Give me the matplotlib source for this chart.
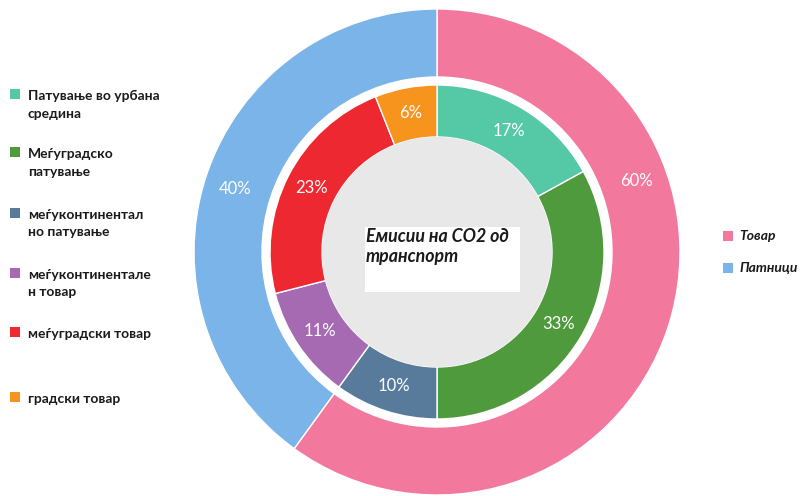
import matplotlib
matplotlib.use("Agg")
import matplotlib.pyplot as plt
from matplotlib.patches import Circle, Rectangle
import numpy as np

outer_labels = ["Товар", "Патници"]
outer_values = [60, 40]
outer_colors = ["#F2789E", "#7AB4E8"]

inner_labels = ["Патување во урбана\nсредина", "Меѓуградско\nпатување",
                "меѓуконтинентал\nно патување", "меѓуконтинентале\nн товар",
                "меѓуградски товар", "градски товар"]
inner_values = [17, 33, 10, 11, 23, 6]
inner_colors = ["#55C8A6", "#4F9A3C", "#587B9C", "#A66AB2", "#EE2830", "#F7941E"]

title = "Емисии на CO2 од\nтранспорт"

plt.rcParams['font.family'] = ['Lato', 'DejaVu Sans']

W, H = 801, 496
fig = plt.figure(figsize=(W / 100, H / 100), dpi=100)
ax = fig.add_axes([0, 0, 1, 1])
ax.set_xlim(0, W)
ax.set_ylim(0, H)
ax.set_aspect('equal')
ax.axis('off')

cx, cy = 437, H - 252
R_out, R_out_in = 243, 175
R_in, R_in_in = 167, 115

ax.pie(outer_values, radius=R_out, center=(cx, cy), colors=outer_colors,
       startangle=90, counterclock=False,
       wedgeprops=dict(width=R_out - R_out_in, edgecolor='white', linewidth=1))
ax.pie(inner_values, radius=R_in, center=(cx, cy), colors=inner_colors,
       startangle=90, counterclock=False,
       wedgeprops=dict(width=R_in - R_in_in, edgecolor='white', linewidth=1))
ax.set_xlim(0, W)
ax.set_ylim(0, H)

# outer labels sit near the top of each side of the ring
outer_label_angles = [19.5, 162.6]
r_lab = (R_out + R_out_in) / 2 + 3
for v, ang in zip(outer_values, outer_label_angles):
    x = cx + r_lab * np.cos(np.radians(ang))
    y = cy + r_lab * np.sin(np.radians(ang))
    ax.text(x, y, f"{v}%", color='white', fontsize=12, ha='center', va='center')

total = sum(inner_values)
start = 90.0
r_mid = (R_in + R_in_in) / 2
for v in inner_values:
    ang = start - 360.0 * v / total / 2
    start -= 360.0 * v / total
    x = cx + r_mid * np.cos(np.radians(ang))
    y = cy + r_mid * np.sin(np.radians(ang))
    ax.text(x, y, f"{v}%", color='white', fontsize=12, ha='center', va='center')

ax.add_patch(Circle((cx, cy), R_in_in, facecolor='#E8E8E8', edgecolor='none'))
ax.add_patch(Rectangle((365, H - 292), 155, 65, facecolor='white', edgecolor='none'))
ax.text(366, H - 228, title, fontsize=12.8, fontweight='bold', style='italic',
        color='#1a1a1a', ha='left', va='top', linespacing=1.2)

# left legend
leg_y = [94, 152, 213, 273, 332, 397]
for lab, col, y in zip(inner_labels, inner_colors, leg_y):
    ax.add_patch(Rectangle((10, H - y - 5), 10, 10, facecolor=col, edgecolor='none'))
    ax.text(28, H - y + 4, lab, fontsize=10, fontweight='bold', color='#1a1a1a',
            ha='left', va='top', linespacing=1.55)

# right legend
r_y = [236, 268]
for lab, col, y in zip(outer_labels, outer_colors, r_y):
    ax.add_patch(Rectangle((723, H - y - 5), 10, 10, facecolor=col, edgecolor='none'))
    ax.text(739, H - y, lab, fontsize=10, fontweight='bold', style='italic',
            color='#1a1a1a', ha='left', va='center')

fig.savefig("out.png", dpi=100)
